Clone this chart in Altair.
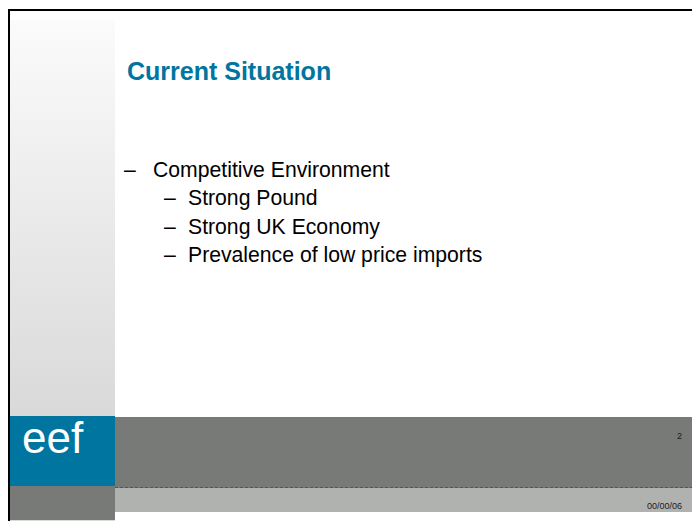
import altair as alt
import pandas as pd

# ---- slide content ----
title_text = "Current Situation"
level1_items = ["Competitive Environment"]
level2_items = ["Strong Pound", "Strong UK Economy", "Prevalence of low price imports"]
logo_text = "eef"
page_number = "2"
date_label = "00/00/06"

BLUE = "#00759f"
DARK_GREY = "#787a78"
LIGHT_GREY = "#b0b2b0"
PALE_GREY = "#d8d9d8"

# the page must fit inside the 700x529 window (8px body margin all round)
W, H = 684, 513
xs = alt.Scale(domain=[8, 8 + W], range=[0, W], nice=False, zero=False)
ys = alt.Scale(domain=[8, 8 + H], range=[0, H], nice=False, zero=False)

# ---- layout blocks (page pixel coordinates) ----
blocks = pd.DataFrame([
    dict(x=8, x2=700, y=9, y2=11, c="#000000"),        # top border
    dict(x=8, x2=10, y=9, y2=529, c="#000000"),        # left border
    dict(x=10, x2=115, y=416, y2=486, c=BLUE),         # logo box
    dict(x=115, x2=694, y=417, y2=488, c=DARK_GREY),   # footer bar
    dict(x=115, x2=694, y=488, y2=512, c=LIGHT_GREY),  # date bar
    dict(x=10, x2=115, y=486, y2=520, c=DARK_GREY),    # left lower block
    dict(x=10, x2=115, y=520, y2=529, c=PALE_GREY),    # left bottom strip
])

panel = pd.DataFrame([dict(x=10, x2=115, y=20, y2=416)])

def X(f="x"):
    return alt.X(f"{f}:Q", scale=xs, axis=None)

def Y(f="y"):
    return alt.Y(f"{f}:Q", scale=ys, axis=None)

gradient = alt.Gradient(
    gradient="linear",
    stops=[alt.GradientStop(color="#fbfbfb", offset=0),
           alt.GradientStop(color=PALE_GREY, offset=1)],
    x1=0, x2=0, y1=0, y2=1,
)

panel_layer = alt.Chart(panel).mark_rect(color=gradient).encode(
    x=X(), x2="x2:Q", y=Y(), y2="y2:Q")

block_layer = alt.Chart(blocks).mark_rect().encode(
    x=X(), x2="x2:Q", y=Y(), y2="y2:Q",
    color=alt.Color("c:N", scale=None))

dash_layer = alt.Chart(pd.DataFrame([dict(x=115, x2=694, y=487.5)])).mark_rule(
    color="#555555", strokeDash=[3, 2], strokeWidth=1).encode(
    x=X(), x2="x2:Q", y=Y())

# ---- texts ----
title_df = pd.DataFrame([dict(x=127, y=80, t=title_text)])
title_layer = alt.Chart(title_df).mark_text(
    align="left", baseline="alphabetic", font="Liberation Sans",
    fontSize=25, fontWeight="bold", color=BLUE).encode(
    x=X(), y=Y(), text="t:N")

rows = []
base_y = 177
step = 28.3
for i, t in enumerate(level1_items):
    rows.append(dict(x=124, y=base_y, t="\u2013"))
    rows.append(dict(x=153, y=base_y, t=t))
for j, t in enumerate(level2_items):
    yy = base_y + step * (j + 1)
    rows.append(dict(x=164, y=yy, t="\u2013"))
    rows.append(dict(x=188, y=yy, t=t))
body_df = pd.DataFrame(rows)
body_layer = alt.Chart(body_df).mark_text(
    align="left", baseline="alphabetic", font="Liberation Sans",
    fontSize=21.2, color="#000000").encode(
    x=X(), y=Y(), text="t:N")

logo_layer = alt.Chart(pd.DataFrame([dict(x=22, y=453, t=logo_text)])).mark_text(
    align="left", baseline="alphabetic", font="Liberation Sans",
    fontSize=44, color="#ffffff").encode(x=X(), y=Y(), text="t:N")

small_df = pd.DataFrame([
    dict(x=682, y=439, t=page_number),
    dict(x=682, y=509, t=date_label),
])
small_layer = alt.Chart(small_df).mark_text(
    align="right", baseline="alphabetic", font="Liberation Sans",
    fontSize=9, color="#1a1a1a").encode(x=X(), y=Y(), text="t:N")

chart = alt.layer(
    panel_layer, block_layer, dash_layer, title_layer, body_layer,
    logo_layer, small_layer,
).properties(
    width=W, height=H, autosize=alt.AutoSizeParams(type="none"), padding=0,
    background="#ffffff",
).configure_view(stroke=None)

chart.save("out.html", embed_options={"renderer": "svg", "actions": False})
